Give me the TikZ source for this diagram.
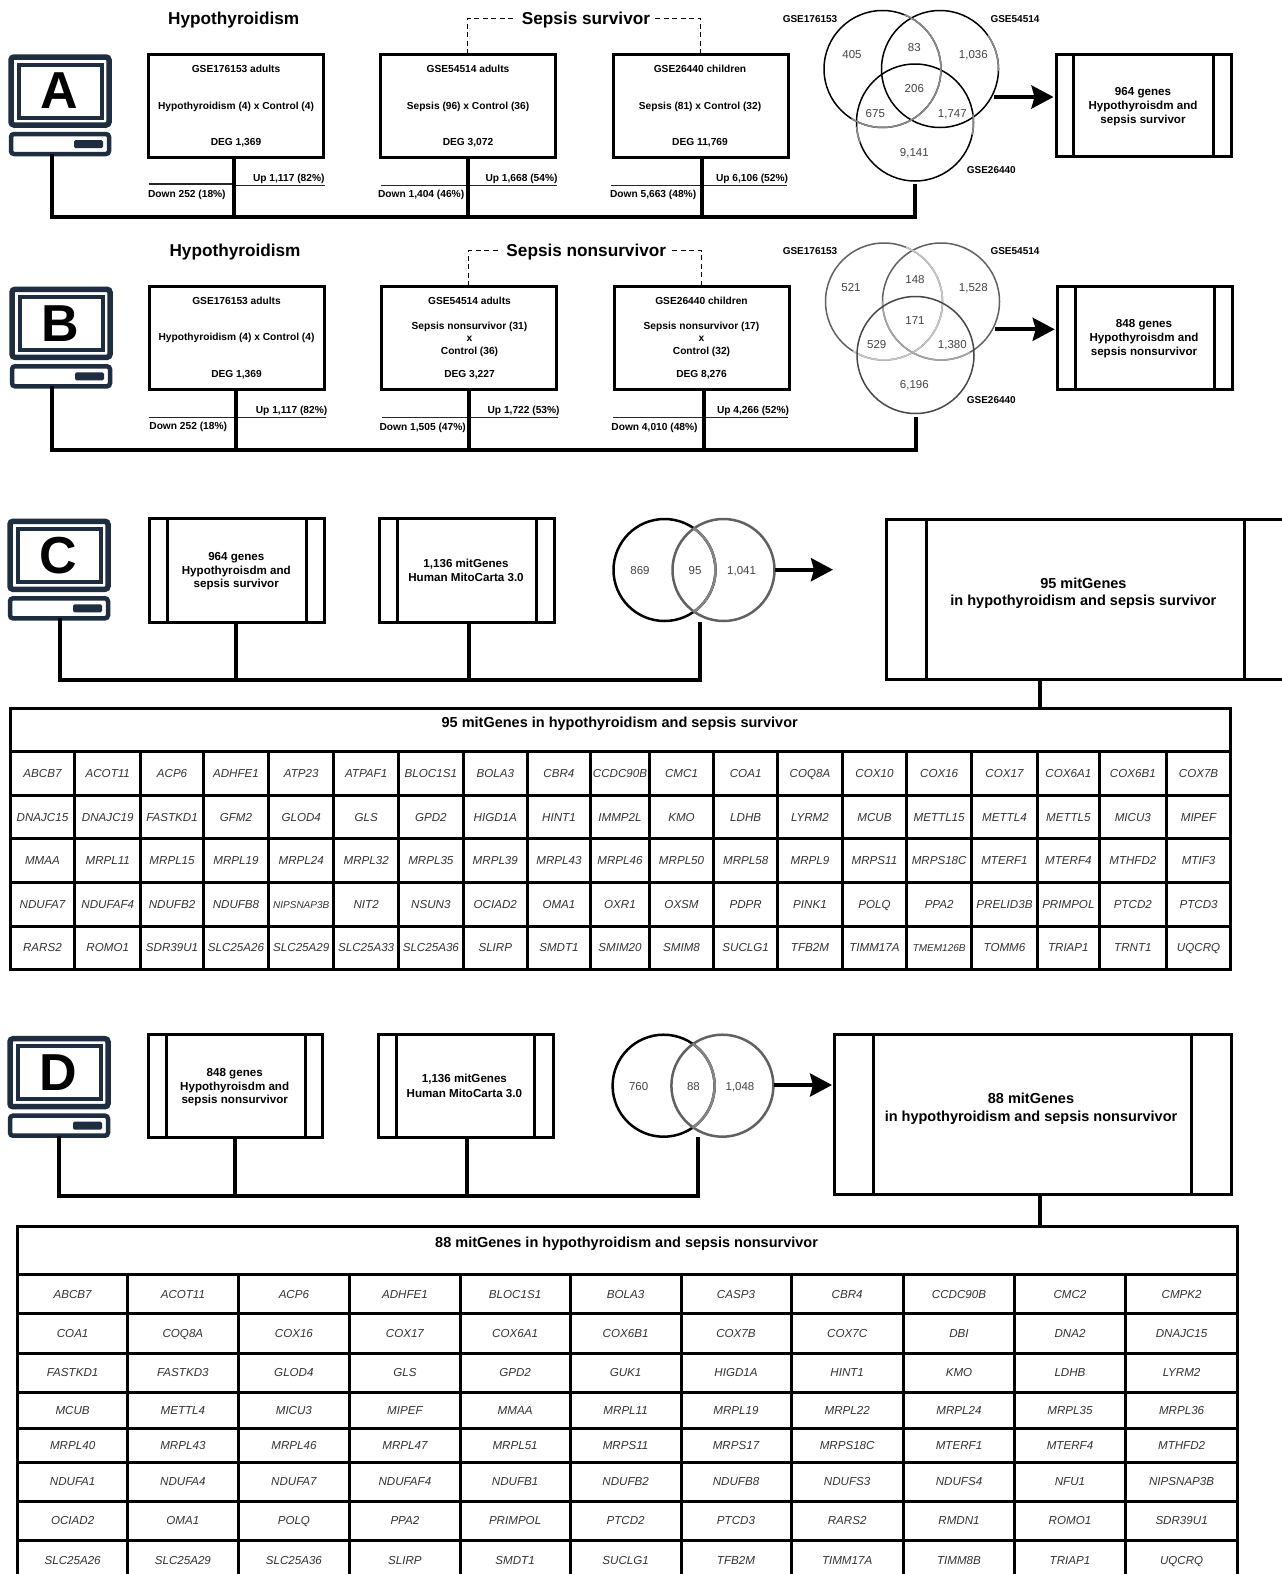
\documentclass[tikz,border=0pt]{standalone}
\usepackage{fontspec}
\setmainfont{Liberation Sans}
\usetikzlibrary{arrows.meta}
\definecolor{iconblue}{HTML}{1E2E40}
\definecolor{numgrey}{HTML}{444444}
\definecolor{genegrey}{HTML}{333333}
\newcommand{\fs}[1]{\fontsize{#1}{#1}\selectfont}
\newcommand{\sm}[1]{{\fs{10}#1}}
\tikzset{
  every node/.style={inner sep=0pt,outer sep=0pt},
  lab/.style={font=\bfseries\fs{10.2},text height=7.3pt,text depth=0pt,yshift=-0.4pt},
  labb/.style={font=\bfseries\fs{11.6},text height=8.3pt,text depth=0pt,yshift=-0.4pt},
  bigt/.style={font=\bfseries\fs{17.2},text height=12.3pt,text depth=0pt,yshift=-0.4pt},
  midt/.style={font=\bfseries\fs{14.5},text height=10.4pt,text depth=0pt,yshift=-0.4pt},
  num/.style={font=\fs{11.5},text=numgrey,text height=8.2pt,text depth=0pt,yshift=-0.4pt},
  box/.style={draw=black,line width=3pt,fill=white},
  conn/.style={draw=black,line width=4pt,line cap=butt,line join=miter},
  thinl/.style={draw=black!85,line width=1.2pt},
  dashl/.style={draw=black,line width=1.2pt,dash pattern=on 5pt off 3.5pt},
  bigarrow/.style={draw=black,line width=4pt,-{Stealth[length=22pt,width=23pt,inset=3pt]}},
  cell/.style={draw=black,line width=3pt,font=\itshape\fs{11.6},text=genegrey,text height=8.3pt,text depth=0pt},
  vblack/.style={circle,draw=black,line width=1.5pt},
}
% icon: name, letter
\newcommand{\compicon}[2]{%
  \node[draw=iconblue,line width=5.5pt,rounded corners=3pt,minimum width=98pt,minimum height=68pt] (#1mon) at (60,91) {};
  \node[draw=iconblue,line width=4pt,minimum width=83pt,minimum height=53pt,font=\bfseries\fs{52}] (#1scr) at (60,91) {#2\kern2pt};
  \node[draw=iconblue,line width=4.5pt,rounded corners=3pt,minimum width=98pt,minimum height=20pt] (#1base) at (60,144) {};
  \node[fill=iconblue,rounded corners=1.5pt,minimum width=29pt,minimum height=8pt] (#1slot) at (88.5,144) {};
}
% box with side bars: name, x1, y1, x2, y2, bar1, bar2
\newcommand{\procbox}[7]{%
  \pgfmathsetmacro\bw{#4-#2}\pgfmathsetmacro\bh{#5-#3}%
  \pgfmathsetmacro\bx{(#4+#2)/2}\pgfmathsetmacro\by{(#5+#3)/2}%
  \node[box,minimum width=\bw pt,minimum height=\bh pt] (#1) at (\bx,\by) {};
  \draw[line width=3pt] (#6,#3) -- (#6,#5);
  \draw[line width=3pt] (#7,#3) -- (#7,#5);
}
\newcommand{\plainbox}[5]{%
  \pgfmathsetmacro\bw{#4-#2}\pgfmathsetmacro\bh{#5-#3}%
  \pgfmathsetmacro\bx{(#4+#2)/2}\pgfmathsetmacro\by{(#5+#3)/2}%
  \node[box,minimum width=\bw pt,minimum height=\bh pt] (#1) at (\bx,\by) {};
}
\def\colsC{{10.2,74.7,140.8,203.3,268.6,333.9,398.4,463.3,527.3,590.6,649.4,713.7,777.6,842.3,906.6,971.7,1037.2,1099.5,1166.2,1230.9}}
\def\rowsC{{751.7,795,838.7,882.3,926,969.3}}
\def\colsD{{17.5,127.8,238,349.8,460,570.2,681,791,903.3,1014.7,1125.3,1237.9}}
\def\rowsD{{1274.3,1313.7,1353,1392.3,1428.3,1462.3,1501,1540.3,1579.6}}
\begin{document}
\begin{tikzpicture}[x=1pt,y=-1pt]
\useasboundingbox (0,0) rectangle (1282,1574);
\clip (0,0) rectangle (1282,1574);
\fill[white] (0,0) rectangle (1282,1574);

%%%%% PANEL A
\compicon{A}{A}
\node[bigt] (Atitle) at (233.7,18) {Hypothyroidism};
\node[bigt] (Asep) at (586,18) {Sepsis survivor};
\plainbox{Abox1}{148}{54}{323}{157}
\plainbox{Abox2}{380}{54}{555}{157}
\plainbox{Abox3}{613}{54}{788}{157}
\node[lab] (A1a) at (236,68) {GSE176153 adults};
\node[lab] (A1b) at (236,105) {Hypothyroidism (4) x Control (4)};
\node[lab] (A1c) at (236,141) {DEG 1,369};
\node[lab] (A2a) at (468,68) {GSE54514 adults};
\node[lab] (A2b) at (468,105) {Sepsis (96) x Control (36)};
\node[lab] (A2c) at (468,141) {DEG 3,072};
\node[lab] (A3a) at (700,68) {GSE26440 children};
\node[lab] (A3b) at (700,105) {Sepsis (81) x Control (32)};
\node[lab] (A3c) at (700,141) {DEG 11,769};
\draw[dashl] (Abox2.north) -- (Abox2.north |- Asep.west) -- ([xshift=-9pt]Asep.west);
\draw[dashl] ([xshift=5pt]Asep.east) -- (Abox3.north |- Asep.east) -- (Abox3.north);
\draw[thinl] (148.5,184) -- (234,184);
\draw[thinl] (234,185.7) -- (324.5,185.7);
\draw[thinl] (381,185.7) -- (557,185.7);
\draw[thinl] (611,185.5) -- (787,185.5);
\node[lab,anchor=east] (Au1) at (324.5,177) {Up 1,117 (82\%)};
\node[lab,anchor=west] (Ad1) at (148,193) {Down 252 (18\%)};
\node[lab,anchor=east] (Au2) at (557.5,177) {Up 1,668 (54\%)};
\node[lab,anchor=west] (Ad2) at (378,193.5) {Down 1,404 (46\%)};
\node[lab,anchor=east] (Au3) at (788,177) {Up 6,106 (52\%)};
\node[lab,anchor=west] (Ad3) at (610,193.5) {Down 5,663 (48\%)};
\node[vblack,minimum size=117pt] (Av1) at (882.5,69) {};
\node[vblack,minimum size=117pt] (Av2) at (940,69) {};
\node[vblack,minimum size=117pt] (Av3) at (915,122.5) {};
\draw[black!45,line width=1.5pt] (Av1.center) ++(68:58.5pt) arc (68:-122:58.5pt);
\draw[black!45,line width=1.5pt] (Av2.center) ++(35:58.5pt) arc (35:-2:58.5pt);
\draw[black!45,line width=1.5pt] (Av3.center) ++(184:58.5pt) arc (184:200:58.5pt);
\draw[black!45,line width=1.5pt] (Av3.center) ++(8:58.5pt) arc (8:-12:58.5pt);
\node[num] (An1) at (852,54.3) {405};
\node[num] (An2) at (914.3,46.7) {83};
\node[num] (An3) at (973.3,54.3) {1,036};
\node[num] (An4) at (914.3,87.7) {206};
\node[num] (An5) at (875.3,112.7) {675};
\node[num] (An6) at (952.3,112.7) {1,747};
\node[num] (An7) at (914.3,152) {9,141};
\node[lab,font=\bfseries\fs{10}] (Ag1) at (810,18.7) {GSE176153};
\node[lab,font=\bfseries\fs{10}] (Ag2) at (1015,18.7) {GSE54514};
\node[lab,font=\bfseries\fs{10}] (Ag3) at (991.3,169) {GSE26440};
\procbox{Abox4}{1056.5}{54}{1231}{156.7}{1073.7}{1213.7}
\node[labb] (A4a) at (1143,90.7) {964 genes};
\node[labb] (A4b) at (1143,105.3) {Hypothyroisdm and};
\node[labb] (A4c) at (1143,118.7) {sepsis survivor};
\coordinate (Aas) at (994,97);
\draw[bigarrow,shorten >=3pt] (Aas) -- (Aas -| Abox4.west);
\coordinate (Ab0) at (52,217);
\coordinate (Ab1) at (234,217);
\coordinate (Ab2) at (468,217);
\coordinate (Ab3) at (701.5,217);
\coordinate (Ab4) at (915,217);
\coordinate (Ast) at (915,184);
\draw[conn] (Ab0 |- Abase.south) -- (Ab0) -- (Ab4) -- (Ast);
\draw[conn] (Ab1 |- Abox1.south) -- (Ab1);
\draw[conn] (Ab2 |- Abox2.south) -- (Ab2);
\draw[conn] (Ab3 |- Abox3.south) -- (Ab3);

%%%%% PANEL B
\begin{scope}[shift={(1,232.3)}]
\compicon{B}{B}
\end{scope}
\node[bigt] (Btitle) at (235,250) {Hypothyroidism};
\node[bigt] (Bsep) at (586.3,250) {Sepsis nonsurvivor};
\plainbox{Bbox1}{149}{286}{324}{389.3}
\plainbox{Bbox2}{381.6}{286}{556}{389.3}
\plainbox{Bbox3}{614}{286}{789}{389.3}
\node[lab] (B1a) at (236.5,300) {GSE176153 adults};
\node[lab] (B1b) at (236.5,336.7) {Hypothyroidism (4) x Control (4)};
\node[lab] (B1c) at (236.5,373) {DEG 1,369};
\node[lab] (B2a) at (469.5,300) {GSE54514 adults};
\node[lab] (B2b) at (469.5,325.3) {Sepsis nonsurvivor (31)};
\node[lab] (B2x) at (469.5,337) {x};
\node[lab] (B2d) at (469.5,350) {Control (36)};
\node[lab] (B2c) at (469.5,373) {DEG 3,227};
\node[lab] (B3a) at (701.5,300) {GSE26440 children};
\node[lab] (B3b) at (701.5,325.3) {Sepsis nonsurvivor (17)};
\node[lab] (B3x) at (701.5,337) {x};
\node[lab] (B3d) at (701.5,350) {Control (32)};
\node[lab] (B3c) at (701.5,373) {DEG 8,276};
\draw[dashl] (Bbox2.north) -- (Bbox2.north |- Bsep.west) -- ([xshift=-6pt]Bsep.west);
\draw[dashl] ([xshift=6pt]Bsep.east) -- (Bbox3.north |- Bsep.east) -- (Bbox3.north);
\draw[thinl] (149.4,417.7) -- (325.7,417.7);
\draw[thinl] (382,417.7) -- (557.5,417.7);
\draw[thinl] (613,417.7) -- (788,417.7);
\node[lab,anchor=east] (Bu1) at (327.3,409.3) {Up 1,117 (82\%)};
\node[lab,anchor=west] (Bd1) at (149.4,425.7) {Down 252 (18\%)};
\node[lab,anchor=east] (Bu2) at (559.6,409.3) {Up 1,722 (53\%)};
\node[lab,anchor=west] (Bd2) at (379.6,426) {Down 1,505 (47\%)};
\node[lab,anchor=east] (Bu3) at (789,409.3) {Up 4,266 (52\%)};
\node[lab,anchor=west] (Bd3) at (611.4,426) {Down 4,010 (48\%)};
\node[circle,draw=black!62,line width=1.5pt,minimum size=117pt] (Bv1) at (884,301.5) {};
\node[circle,draw=black!62,line width=1.5pt,minimum size=117pt] (Bv2) at (941,301.5) {};
\draw[black!22,line width=1.5pt] (Bv1.center) ++(68:58.5pt) arc (68:-122:58.5pt);
\draw[black!35,line width=1.5pt] (Bv2.center) ++(180:58.5pt) arc (180:300:58.5pt);
\node[circle,draw=black!72,line width=1.5pt,minimum size=117pt] (Bv3) at (915.5,355) {};
\node[num] (Bn1) at (851,286.7) {521};
\node[num] (Bn2) at (915,279.3) {148};
\node[num] (Bn3) at (973.3,286.7) {1,528};
\node[num] (Bn4) at (915,320) {171};
\node[num] (Bn5) at (876.7,344.3) {529};
\node[num] (Bn6) at (952.3,344.3) {1,380};
\node[num] (Bn7) at (914.3,384) {6,196};
\node[lab,font=\bfseries\fs{10}] (Bg1) at (810,250.7) {GSE176153};
\node[lab,font=\bfseries\fs{10}] (Bg2) at (1015,250.7) {GSE54514};
\node[lab,font=\bfseries\fs{10}] (Bg3) at (991.3,399) {GSE26440};
\procbox{Bbox4}{1057.7}{286.7}{1232}{389.3}{1075}{1214.5}
\node[labb] (B4a) at (1144,323.3) {848 genes};
\node[labb] (B4b) at (1144,337.3) {Hypothyroisdm and};
\node[labb] (B4c) at (1144,350.7) {sepsis nonsurvivor};
\coordinate (Bas) at (995.4,329.3);
\draw[bigarrow,shorten >=3pt] (Bas) -- (Bas -| Bbox4.west);
\coordinate (Bb0) at (52,449.7);
\coordinate (Bb1) at (235.5,449.7);
\coordinate (Bb2) at (469.4,449.7);
\coordinate (Bb3) at (703.5,449.7);
\coordinate (Bb4) at (916.4,449.7);
\coordinate (Bst) at (916.4,416.7);
\draw[conn] (Bb0 |- Bbase.south) -- (Bb0) -- (Bb4) -- (Bst);
\draw[conn] (Bb1 |- Bbox1.south) -- (Bb1);
\draw[conn] (Bb2 |- Bbox2.south) -- (Bb2);
\draw[conn] (Bb3 |- Bbox3.south) -- (Bb3);

%%%%% PANEL C
\begin{scope}[shift={(-1,464.3)}]
\compicon{C}{C}
\end{scope}
\procbox{Cbox1}{149.5}{518.3}{324.4}{622}{167.6}{306.6}
\node[labb] (C1a) at (236.3,556) {964 genes};
\node[labb] (C1b) at (236.3,570.3) {Hypothyroisdm and};
\node[labb] (C1c) at (236.3,583.3) {sepsis survivor};
\procbox{Cbox2}{379.2}{518.3}{554.5}{622}{397.4}{536.4}
\node[labb] (C2a) at (466,562.7) {1,136 mitGenes};
\node[labb] (C2b) at (466,577) {Human MitoCarta 3.0};
\node[circle,draw=black,line width=2.5pt,minimum size=102pt] (Cv1) at (664.5,570) {};
\node[circle,draw=black!62,line width=2.5pt,minimum size=102pt] (Cv2) at (723.5,570) {};
\draw[black!48,line width=2.5pt] (Cv1.center) ++(55:51pt) arc (55:-55:51pt);
\node[num] (Cn1) at (640,570) {869};
\node[num] (Cn2) at (695,570) {95};
\node[num] (Cn3) at (741.6,570) {1,041};
\coordinate (Cas) at (775,569.7);
\coordinate (Cae) at (833,569.7);
\draw[bigarrow] (Cas) -- (Cae);
\procbox{Cbox3}{886}{519.3}{1286}{679.3}{926.4}{1244.5}
\node[midt] (C3a) at (1083.4,582.7) {95 mitGenes};
\node[midt] (C3b) at (1083.4,600) {in hypothyroidism and sepsis survivor};
\coordinate (Cb0) at (60,680.3);
\coordinate (Cb1) at (236.3,680.3);
\coordinate (Cb2) at (468.5,680.3);
\coordinate (Cb3) at (700,680.3);
\coordinate (Cst) at (700,622);
\draw[conn] (Cb0 |- Cbase.south) -- (Cb0) -- (Cb3) -- (Cst);
\draw[conn] (Cb1 |- Cbox1.south) -- (Cb1);
\draw[conn] (Cb2 |- Cbox2.south) -- (Cb2);

% table C
\plainbox{Ctab}{10.2}{708.3}{1230.9}{751.7}
\node[midt] (Ctt) at (619.7,721.7) {95 mitGenes in hypothyroidism and sepsis survivor};
\coordinate (Ctc) at (1040,680);
\draw[conn,line width=3.5pt] (Ctc |- Cbox3.south) -- (Ctc |- Ctab.north);
\foreach \rowlist [count=\r] in {
 {ABCB7,ACOT11,ACP6,ADHFE1,ATP23,ATPAF1,BLOC1S1,BOLA3,CBR4,CCDC90B,CMC1,COA1,COQ8A,COX10,COX16,COX17,COX6A1,COX6B1,COX7B},
 {DNAJC15,DNAJC19,FASTKD1,GFM2,GLOD4,GLS,GPD2,HIGD1A,HINT1,IMMP2L,KMO,LDHB,LYRM2,MCUB,METTL15,METTL4,METTL5,MICU3,MIPEF},
 {MMAA,MRPL11,MRPL15,MRPL19,MRPL24,MRPL32,MRPL35,MRPL39,MRPL43,MRPL46,MRPL50,MRPL58,MRPL9,MRPS11,MRPS18C,MTERF1,MTERF4,MTHFD2,MTIF3},
 {NDUFA7,NDUFAF4,NDUFB2,NDUFB8,\sm{NIPSNAP3B},NIT2,NSUN3,OCIAD2,OMA1,OXR1,OXSM,PDPR,PINK1,POLQ,PPA2,PRELID3B,PRIMPOL,PTCD2,PTCD3},
 {RARS2,ROMO1,SDR39U1,SLC25A26,SLC25A29,SLC25A33,SLC25A36,SLIRP,SMDT1,SMIM20,SMIM8,SUCLG1,TFB2M,TIMM17A,\sm{TMEM126B},TOMM6,TRIAP1,TRNT1,UQCRQ}}
{
  \foreach \g [count=\c] in \rowlist {
    \pgfmathsetmacro\xa{\colsC[\c-1]}\pgfmathsetmacro\xb{\colsC[\c]}%
    \pgfmathsetmacro\ya{\rowsC[\r-1]}\pgfmathsetmacro\yb{\rowsC[\r]}%
    \pgfmathsetmacro\cw{\xb-\xa}\pgfmathsetmacro\ch{\yb-\ya}%
    \pgfmathsetmacro\cx{(\xa+\xb)/2}\pgfmathsetmacro\cy{(\ya+\yb)/2}%
    \node[cell,minimum width=\cw pt,minimum height=\ch pt] (C-\r-\c) at (\cx,\cy) {\makebox[0pt][c]{\g}};
  }
}

%%%%% PANEL D
\begin{scope}[shift={(-1,981.7)}]
\compicon{D}{D}
\end{scope}
\procbox{Dbox1}{148}{1034}{322.5}{1137.3}{166}{305}
\node[labb] (D1a) at (234.7,1071.7) {848 genes};
\node[labb] (D1b) at (234.7,1085.7) {Hypothyroisdm and};
\node[labb] (D1c) at (234.7,1099.3) {sepsis nonsurvivor};
\procbox{Dbox2}{378.3}{1034}{553}{1137.3}{396.6}{534.8}
\node[labb] (D2a) at (464.4,1078.3) {1,136 mitGenes};
\node[labb] (D2b) at (464.4,1093.3) {Human MitoCarta 3.0};
\node[circle,draw=black,line width=2.5pt,minimum size=102pt] (Dv1) at (663.6,1085.7) {};
\node[circle,draw=black!62,line width=2.5pt,minimum size=102pt] (Dv2) at (722.4,1085.7) {};
\draw[black!48,line width=2.5pt] (Dv1.center) ++(55:51pt) arc (55:-55:51pt);
\node[num] (Dn1) at (638.6,1085.7) {760};
\node[num] (Dn2) at (693.4,1085.7) {88};
\node[num] (Dn3) at (740,1085.7) {1,048};
\procbox{Dbox3}{834}{1034}{1231.4}{1194.7}{873.3}{1191.3}
\node[midt] (D3a) at (1031,1098.3) {88 mitGenes};
\node[midt] (D3b) at (1031,1115.7) {in hypothyroidism and sepsis nonsurvivor};
\coordinate (Das) at (774,1085);
\draw[bigarrow,shorten >=2pt] (Das) -- (Das -| Dbox3.west);
\coordinate (Db0) at (59,1196);
\coordinate (Db1) at (234.7,1196);
\coordinate (Db2) at (467,1196);
\coordinate (Db3) at (697.5,1196);
\coordinate (Dst) at (697.5,1137);
\draw[conn] (Db0 |- Dbase.south) -- (Db0) -- (Db3) -- (Dst);
\draw[conn] (Db1 |- Dbox1.south) -- (Db1);
\draw[conn] (Db2 |- Dbox2.south) -- (Db2);

% table D
\plainbox{Dtab}{17.5}{1226.3}{1237.9}{1274.3}
\node[midt] (Dtt) at (626.6,1242.3) {88 mitGenes in hypothyroidism and sepsis nonsurvivor};
\coordinate (Dtc) at (1040,1200);
\draw[conn,line width=3.5pt] (Dtc |- Dbox3.south) -- (Dtc |- Dtab.north);
\foreach \rowlist [count=\r] in {
 {ABCB7,ACOT11,ACP6,ADHFE1,BLOC1S1,BOLA3,CASP3,CBR4,CCDC90B,CMC2,CMPK2},
 {COA1,COQ8A,COX16,COX17,COX6A1,COX6B1,COX7B,COX7C,DBI,DNA2,DNAJC15},
 {FASTKD1,FASTKD3,GLOD4,GLS,GPD2,GUK1,HIGD1A,HINT1,KMO,LDHB,LYRM2},
 {MCUB,METTL4,MICU3,MIPEF,MMAA,MRPL11,MRPL19,MRPL22,MRPL24,MRPL35,MRPL36},
 {MRPL40,MRPL43,MRPL46,MRPL47,MRPL51,MRPS11,MRPS17,MRPS18C,MTERF1,MTERF4,MTHFD2},
 {NDUFA1,NDUFA4,NDUFA7,NDUFAF4,NDUFB1,NDUFB2,NDUFB8,NDUFS3,NDUFS4,NFU1,NIPSNAP3B},
 {OCIAD2,OMA1,POLQ,PPA2,PRIMPOL,PTCD2,PTCD3,RARS2,RMDN1,ROMO1,SDR39U1},
 {SLC25A26,SLC25A29,SLC25A36,SLIRP,SMDT1,SUCLG1,TFB2M,TIMM17A,TIMM8B,TRIAP1,UQCRQ}}
{
  \foreach \g [count=\c] in \rowlist {
    \pgfmathsetmacro\xa{\colsD[\c-1]}\pgfmathsetmacro\xb{\colsD[\c]}%
    \pgfmathsetmacro\ya{\rowsD[\r-1]}\pgfmathsetmacro\yb{\rowsD[\r]}%
    \pgfmathsetmacro\cw{\xb-\xa}\pgfmathsetmacro\ch{\yb-\ya}%
    \pgfmathsetmacro\cx{(\xa+\xb)/2}\pgfmathsetmacro\cy{(\ya+\yb)/2}%
    \node[cell,minimum width=\cw pt,minimum height=\ch pt] (D-\r-\c) at (\cx,\cy) {\makebox[0pt][c]{\g}};
  }
}
\end{tikzpicture}
\end{document}
